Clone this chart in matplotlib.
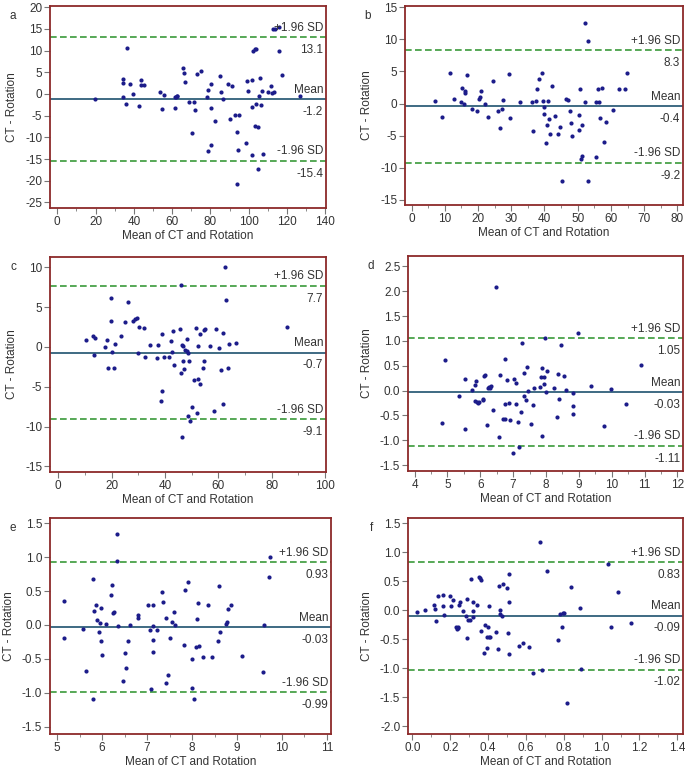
import numpy as np
import matplotlib
matplotlib.use("Agg")
import matplotlib.pyplot as plt
from matplotlib.ticker import MultipleLocator, FormatStrFormatter

plt.rcParams['axes.unicode_minus'] = False
plt.rcParams['font.family'] = ['Liberation Sans', 'DejaVu Sans']

# panel a
a_x = [19.7, 34.1, 34.5, 34.5, 35.7, 36.6, 37.8, 39.7, 42.8, 43.9, 43.9, 45.1, 53.5, 54.9, 55.7,
       61.5, 61.9, 62.3, 62.7, 61.6, 65.6, 66.3, 66.5, 69.0, 70.5, 71.6, 71.7, 72.8, 74.9, 78.2,
       78.7, 78.9, 80.3, 80.4, 80.4, 82.5, 84.8, 85.3, 86.4, 89.0, 90.4, 91.2, 92.8, 93.7, 94.0,
       94.2, 94.7, 98.4, 99.1, 99.4, 101.7, 101.9, 101.9, 102.0, 103.1, 103.8, 103.4, 104.0, 105.0,
       104.7, 105.2, 106.0, 106.7, 106.9, 107.3, 110.0, 111.8, 112.0, 112.5, 113.0, 114.0, 115.6,
       115.6, 117.2, 126.9]
a_y = [-1.2, 3.4, 2.6, -0.8, -2.4, 10.5, 2.4, 0.0, -2.8, 3.2, 2.0, 2.0, 0.5, -3.5, -0.2,
       -0.8, -0.6, -0.5, -0.4, -3.3, 6.0, 4.8, 2.8, -1.9, -9.1, -1.9, -3.7, 4.5, 5.2, -0.6,
       0.9, -13.1, -11.8, -3.2, 2.3, -6.3, 4.1, 0.5, -1.1, 2.2, -5.8, 1.9, -4.8, -8.8, -20.8,
       -13.0, -4.8, -11.4, 3.0, 0.8, 3.3, -3.1, -14.0, 10.0, 10.3, 10.3, -7.4, -2.4, -7.7,
       -17.4, -0.5, 3.6, -2.5, 0.6, -13.9, 0.5, 1.8, 0.2, 14.9, 0.4, 14.9, 15.5,
       10.0, 4.3, -0.5]

# panel b
b_x = [7.0, 9.2, 11.4, 12.9, 15.0, 15.3, 15.8, 16.1, 16.2, 16.8, 18.2, 19.7, 20.2, 20.5, 21.0,
       22.0, 22.9, 24.6, 26.1, 26.6, 27.2, 27.6, 29.2, 29.5, 32.5, 36.2, 36.6, 37.3, 37.7, 38.2,
       39.1, 39.6, 39.7, 39.7, 40.5, 40.8, 41.1, 41.4, 41.7, 42.3, 43.1, 44.2, 44.8, 45.3, 46.4,
       47.2, 47.6, 48.0, 48.2, 50.5, 50.5, 50.6, 50.9, 51.3, 51.3, 52.2, 52.3, 53.0, 53.0, 55.4,
       55.6, 56.0, 56.5, 56.7, 57.2, 58.0, 58.4, 60.5, 62.3, 64.2, 64.7]
b_y = [0.4, -2.1, 4.8, 0.7, 0.2, 2.5, -0.1, 1.9, 1.7, 4.4, -0.8, -1.2, 0.7, 1.1, 2.0,
       0.0, -2.1, 3.5, -1.2, -3.8, -0.8, 0.6, 4.6, -2.2, 0.3, 0.2, -4.3, 0.4, 2.3, 3.8,
       4.8, 0.4, -0.5, -1.7, -6.2, -3.4, 0.4, -2.4, -4.8, 2.7, -1.9, -4.8, -3.7, -12.0, 0.7,
       0.6, -1.2, -3.1, -5.0, -1.8, -4.1, 2.2, -8.7, -8.1, -3.4, 12.6, 0.2, 9.7, -12.1, 0.3,
       -8.4, 2.3, 0.3, -2.2, 2.4, -6.0, -2.9, -1.0, 2.3, 2.3, 4.8]

# panel c
c_x = [10.4, 13.0, 13.4, 13.8, 17.6, 18.4, 18.5, 19.8, 19.6, 20.3, 20.8, 21.2, 23.4, 25.1, 26.2,
       28.2, 28.9, 29.4, 30.0, 30.2, 32.2, 32.4, 34.4, 37.2, 37.5, 38.4, 38.9, 39.0, 39.5, 41.4,
       42.1, 42.5, 43.0, 43.3, 45.5, 45.9, 46.2, 46.4, 46.5, 46.6, 46.6, 47.0, 47.6, 48.1, 48.4,
       48.5, 48.8, 49.0, 49.5, 50.0, 50.9, 51.5, 51.9, 52.4, 52.3, 53.0, 53.3, 54.3, 54.5, 54.6,
       54.9, 57.0, 58.4, 59.0, 60.3, 60.9, 61.6, 61.9, 62.6, 63.0, 63.5, 63.9, 66.5, 85.6]
c_y = [0.9, 1.4, -1.0, 1.1, 0.0, 0.9, -2.6, 6.1, 3.3, -0.6, -2.6, 0.4, 1.4, 3.2, 5.6,
       3.3, 3.5, 3.6, -0.8, 2.5, 2.4, -1.2, 0.2, -1.4, 0.2, -6.8, 1.6, -5.5, -1.2, -1.3,
       0.7, -0.6, 2.0, -2.3, 2.3, -3.3, 7.8, -11.3, 0.3, 0.1, -1.8, -2.8, -0.4, -0.5, 1.0,
       -8.7, -0.8, -1.8, -9.3, -7.5, -4.1, 2.4, -8.3, -4.0, 0.1, 1.6, -4.7, -2.7, -1.8, 2.1,
       2.3, 0.1, -8.1, 2.2, -0.1, -2.9, 1.7, -7.2, 10.0, 5.9, -2.6, 0.4, 0.5, 2.5]

# panel d
d_x = [4.83, 4.92, 5.35, 5.53, 5.54, 5.74, 5.85, 5.87, 5.83, 5.90, 5.95, 5.92, 6.08, 6.10, 6.13,
       6.08, 6.20, 6.25, 6.27, 6.31, 6.34, 6.39, 6.48, 6.56, 6.61, 6.68, 6.74, 6.75, 6.76, 6.81,
       6.86, 6.89, 7.00, 7.02, 7.10, 7.10, 7.15, 7.18, 7.25, 7.28, 7.32, 7.32, 7.38, 7.42, 7.46,
       7.54, 7.59, 7.64, 7.81, 7.85, 7.88, 7.88, 7.94, 7.95, 7.96, 8.01, 8.03, 8.24, 8.34, 8.36,
       8.39, 8.47, 8.55, 8.62, 8.83, 8.83, 8.83, 8.96, 9.37, 9.77, 9.97, 10.42, 10.89]
d_y = [-0.65, 0.62, -0.10, -0.78, 0.23, 0.01, 0.11, 0.20, -0.22, -0.24, -0.23, -0.26, -0.19, 0.30, 0.31,
       -0.16, -0.69, 0.05, 0.07, 0.06, 0.09, -0.39, 2.08, -0.93, 0.31, -0.57, 0.63, -0.27, -0.57, 0.21,
       -0.26, -0.59, -1.26, 0.24, 0.16, -0.27, -0.64, -1.13, -0.44, 0.96, 0.35, -0.10, -0.19, 0.48, -0.01,
       -0.67, -0.30, 0.05, 0.07, 0.27, 0.46, -0.92, 0.27, 0.13, 1.05, -0.03, 0.40, 0.05, -0.53, 0.33,
       -0.16, 0.91, 0.30, 0.02, -0.04, -0.32, -0.47, 1.16, 0.10, -0.71, 0.03, -0.28, 0.51]

# panel e
e_x = [5.15, 5.16, 5.58, 5.64, 5.80, 5.80, 5.82, 5.86, 5.88, 5.92, 5.96, 5.97, 5.98, 5.99, 6.09,
       6.19, 6.21, 6.25, 6.27, 6.32, 6.32, 6.36, 6.47, 6.50, 6.53, 6.58, 6.62, 6.79, 6.80, 7.03,
       7.06, 7.08, 7.12, 7.13, 7.13, 7.13, 7.22, 7.32, 7.36, 7.42, 7.43, 7.47, 7.50, 7.56, 7.60,
       7.63, 7.81, 7.84, 7.91, 7.99, 8.00, 8.05, 8.09, 8.11, 8.13, 8.16, 8.25, 8.36, 8.45, 8.57,
       8.59, 8.62, 8.76, 8.78, 8.80, 8.86, 9.11, 9.57, 9.61, 9.71, 9.73]
e_y = [0.35, -0.19, -0.06, -0.68, 0.68, -1.10, 0.21, 0.30, 0.08, -0.10, 0.03, 0.25, -0.23, -0.45, 0.01,
       0.45, 0.59, 0.17, 0.19, 1.35, 0.94, -0.01, -0.82, -0.42, -0.63, -0.23, 0.00, 0.15, 0.11, 0.30,
       -0.07, -0.94, -0.02, 0.29, -0.22, -0.40, -0.08, 0.48, 0.34, 0.10, -0.86, -0.74, -0.19, 0.05, 0.19,
       0.00, -0.30, 0.52, 0.63, -0.50, -0.93, -1.10, -0.32, 0.09, 0.33, -0.31, -0.48, 0.29, -0.48, -0.23,
       0.58, -0.10, 0.01, 0.05, 0.23, 0.29, -0.46, -0.70, 0.00, 0.71, 1.01]

# panel f
f_x = [0.026, 0.069, 0.115, 0.118, 0.127, 0.138, 0.160, 0.160, 0.166, 0.200, 0.203, 0.215, 0.230, 0.234,
       0.239, 0.243, 0.245, 0.254, 0.268, 0.282, 0.287, 0.291, 0.293, 0.302, 0.309, 0.319, 0.321, 0.321,
       0.342, 0.351, 0.358, 0.363, 0.363, 0.377, 0.384, 0.393, 0.393, 0.399, 0.404, 0.404, 0.411, 0.444,
       0.451, 0.459, 0.462, 0.464, 0.476, 0.480, 0.499, 0.503, 0.511, 0.513, 0.513, 0.566, 0.587, 0.617,
       0.635, 0.675, 0.684, 0.711, 0.771, 0.781, 0.790, 0.795, 0.800, 0.818, 0.840, 0.884, 0.891, 1.035,
       1.048, 1.088, 1.157]
f_y = [-0.03, 0.00, 0.10, 0.03, -0.18, 0.24, 0.27, 0.07, -0.08, 0.25, 0.07, 0.17, -0.29, -0.32,
       -0.31, -0.29, 0.09, 0.14, -0.02, -0.10, -0.47, 0.19, -0.17, -0.16, 0.54, 0.14, -0.01, -0.12,
       0.09, 0.58, 0.56, 0.52, -0.36, -0.74, -0.26, -0.65, -0.46, -0.28, 0.08, -0.46, -0.46, -0.38,
       -0.66, 0.42, 0.00, -0.06, -0.10, 0.45, 0.39, -0.39, 0.15, 0.63, -0.75, -0.61, -0.56, -0.63,
       -1.08, 1.18, -1.02, 0.68, -0.51, -0.07, -0.29, -0.05, -0.04, -1.59, 0.41, 0.04, -1.01, 0.80,
       -0.29, 0.31, -0.21]

letters = ['a', 'b', 'c', 'd', 'e', 'f']
xs = [a_x, b_x, c_x, d_x, e_x, f_x]
ys = [a_y, b_y, c_y, d_y, e_y, f_y]
means = [-1.2, -0.4, -0.7, -0.03, -0.03, -0.09]
upper = [13.1, 8.3, 7.7, 1.05, 0.93, 0.83]
lower = [-15.4, -9.2, -9.1, -1.11, -0.99, -1.02]
fmts = ['%.1f', '%.1f', '%.1f', '%.2f', '%.2f', '%.2f']

# axis setup per panel (pixel rects: left, top, right, bottom)
rects = [(50, 6, 326, 208), (405, 6, 683, 205), (50, 257, 326, 472),
         (408, 256, 683, 471), (50, 518, 331, 734), (408, 518, 683, 734)]
xlims = [(-3.8, 140.4), (-2.0, 81.7), (-3.1, 100.4), (3.8, 12.17), (4.84, 11.09), (-0.023, 1.43)]
ylims = [(-26.3, 20.3), (-15.8, 15.2), (-15.7, 11.3), (-1.62, 2.71), (-1.61, 1.58), (-2.13, 1.59)]
xmaj = [20, 10, 20, 1, 1, 0.2]
xmin = [10, 5, 10, 0.5, 0.5, 0.1]
ymaj = [5, 5, 5, 0.5, 0.5, 0.5]
xfmt = ['%d', '%d', '%d', '%d', '%d', '%.1f']
yfmt = ['%d', '%d', '%d', '%.1f', '%.1f', '%.1f']

W, H = 685, 767
fig = plt.figure(figsize=(W / 100, H / 100), dpi=100)

frame = '#8c2a2a'
txt = '#333333'
for i in range(6):
    l, t, r, b = rects[i]
    ax = fig.add_axes([l / W, 1 - b / H, (r - l) / W, (b - t) / H])
    ax.plot(xs[i], ys[i], 'o', color='#1c1c8a', markersize=3, markeredgewidth=0, zorder=3)
    ax.axhline(means[i], color='#2f5f7a', lw=1.3, zorder=2)
    ax.axhline(upper[i], color='#3a9a3a', lw=1.2, ls=(0, (4, 2)), zorder=2)
    ax.axhline(lower[i], color='#3a9a3a', lw=1.2, ls=(0, (4, 2)), zorder=2)

    for val, name in [(upper[i], '+1.96 SD'), (means[i], 'Mean'), (lower[i], '-1.96 SD')]:
        ax.annotate(name, xy=(0.99, val), xycoords=('axes fraction', 'data'),
                    xytext=(0, 2.5), textcoords='offset points',
                    ha='right', va='bottom', fontsize=8.5, color=txt)
        ax.annotate(fmts[i] % val, xy=(0.99, val), xycoords=('axes fraction', 'data'),
                    xytext=(0, -5), textcoords='offset points',
                    ha='right', va='top', fontsize=8.5, color=txt)

    ax.set_xlim(*xlims[i])
    ax.set_ylim(*ylims[i])
    ax.xaxis.set_major_locator(MultipleLocator(xmaj[i]))
    ax.xaxis.set_minor_locator(MultipleLocator(xmin[i]))
    ax.yaxis.set_major_locator(MultipleLocator(ymaj[i]))
    ax.xaxis.set_major_formatter(FormatStrFormatter(xfmt[i]))
    ax.yaxis.set_major_formatter(FormatStrFormatter(yfmt[i]))
    ax.tick_params(which='both', direction='out', color='#777777', labelcolor=txt, labelsize=8.5)
    ax.tick_params(which='major', length=4, pad=1.5)
    ax.tick_params(which='minor', length=2)
    for s in ax.spines.values():
        s.set_color(frame)
        s.set_linewidth(1.3)
    ax.set_xlabel('Mean of CT and Rotation', fontsize=8.5, color=txt, labelpad=2)
    ax.set_ylabel('CT - Rotation', fontsize=8.5, color=txt, labelpad=5)
    fig.text((l - 37) / W, 1 - (t + 10) / H, letters[i], fontsize=8.5, color=txt,
             ha='center', va='center')

fig.savefig('out.png', dpi=100)
